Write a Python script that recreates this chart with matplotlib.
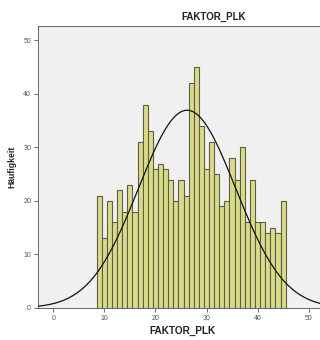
import numpy as np
import matplotlib
matplotlib.use("Agg")
import matplotlib.pyplot as plt

# Histogram of FAKTOR_PLK with fitted normal curve (bins of width 1, centred on integers)
bin_centers = list(range(9, 46))
counts = [21, 13, 20, 16, 22, 18, 23, 18, 31, 38, 33, 26, 27, 26, 24, 20, 24, 21,
          42, 45, 34, 26, 31, 25, 19, 20, 28, 24, 30, 16, 24, 16, 16, 14, 15, 14, 20]
fit_mean = 26.2
fit_sd = 9.5
x_ticks = [0, 10, 20, 30, 40, 50]
y_ticks = [0, 10, 20, 30, 40, 50]
title = "FAKTOR_PLK"
x_label = "FAKTOR_PLK"
y_label = "Häufigkeit"

plt.rcParams['font.family'] = ['Liberation Sans', 'DejaVu Sans']

fig = plt.figure(figsize=(3.2, 3.4), dpi=100)
fig.patch.set_facecolor("white")
ax = fig.add_axes([38 / 320, 1 - 308 / 340, 288 / 320, 282 / 340])
ax.set_facecolor("#F0F0F0")

ax.bar(bin_centers, counts, width=1.0, color="#D8DB8A", edgecolor="#5E5E42",
       linewidth=0.8, zorder=2)

n_total = sum(counts)
xs = np.linspace(-3, 54, 400)
ys = n_total * 1.0 / (fit_sd * np.sqrt(2 * np.pi)) * np.exp(-0.5 * ((xs - fit_mean) / fit_sd) ** 2)
ax.plot(xs, ys, color="#111111", linewidth=0.9, zorder=3)

ax.set_xlim(-3, 53.4)
ax.set_ylim(0, 52.7)
ax.set_xticks(x_ticks)
ax.set_yticks(y_ticks)
ax.tick_params(axis="both", labelsize=5, colors="#555555", length=3, width=0.6,
               direction="out", pad=2)
for s in ax.spines.values():
    s.set_color("#666666")
    s.set_linewidth(0.7)

ax.set_xlabel(x_label, fontsize=7.2, fontweight="bold", color="#222222", labelpad=3)
ax.set_ylabel(y_label, fontsize=6.2, fontweight="bold", color="#222222", labelpad=5)
fig.text(214 / 320, 1 - 17 / 340, title, fontsize=7, fontweight="bold",
         color="#222222", ha="center", va="center")

fig.savefig("out.png", dpi=100, facecolor="white")
